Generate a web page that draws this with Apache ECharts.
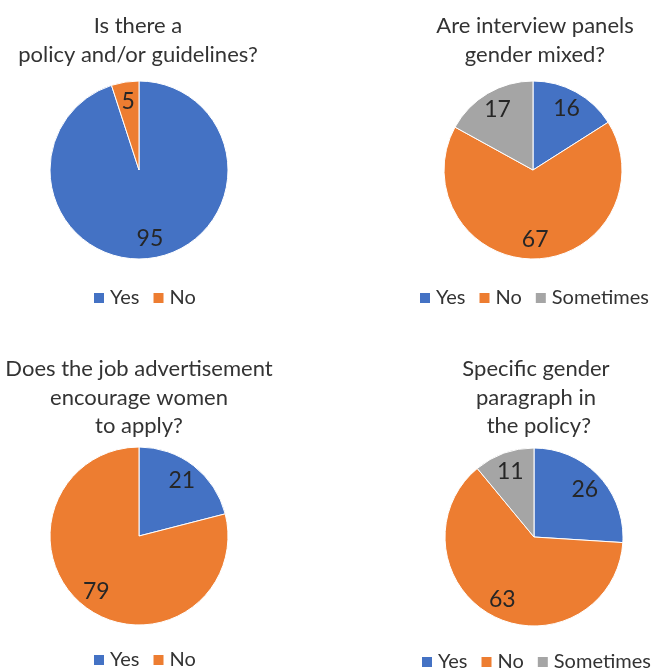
<!DOCTYPE html>
<html>
<head>
<meta charset="utf-8">
<script src="https://cdn.jsdelivr.net/npm/echarts@6/dist/echarts.min.js"></script>
<style>
  html, body { margin: 0; padding: 0; background: #fff; }
  #chart { width: 659px; height: 669px; }
</style>
</head>
<body>
<div id="chart"></div>
<script>
// Answer categories
const answersTwo = ['Yes', 'No'];
const answersThree = ['Yes', 'No', 'Sometimes'];

// Survey results (percent)
const policyValues = [95, 5];
const panelValues = [16, 67, 17];
const advertValues = [21, 79];
const paragraphValues = [26, 63, 11];

// Question titles
const policyTitle = 'Is there a\npolicy and/or guidelines?';
const panelTitle = 'Are interview panels\ngender mixed?';
const advertTitle = 'Does the job advertisement\nencourage women\nto apply?';
const paragraphTitle = 'Specific gender\nparagraph in\n the policy?';

const colorMap = { Yes: '#4472C4', No: '#ED7D31', Sometimes: '#A5A5A5' };
const FONT = 'Lato, "Open Sans", sans-serif';
const TEXT = '#333333';
const R = 89;

const panels = [
  { title: policyTitle, names: answersTwo, values: policyValues, cx: 139, cy: 170, titleX: 133, titleTop: 7, legendLeft: 87, legendTop: 283 },
  { title: panelTitle, names: answersThree, values: panelValues, cx: 533, cy: 170, titleX: 530, titleTop: 7, legendLeft: 413, legendTop: 283 },
  { title: advertTitle, names: answersTwo, values: advertValues, cx: 139, cy: 536, titleX: 134, titleTop: 350, legendLeft: 87, legendTop: 645 },
  { title: paragraphTitle, names: answersThree, values: paragraphValues, cx: 534, cy: 537, titleX: 531, titleTop: 350, legendLeft: 415, legendTop: 647 }
];

const titles = [];
const legends = [];
const series = [];

panels.forEach(function (p) {
  const data = p.names.map(function (n, i) {
    return { name: n, value: p.values[i], itemStyle: { color: colorMap[n] } };
  });
  titles.push({
    text: p.title,
    left: p.titleX,
    top: p.titleTop,
    textAlign: 'center',
    textStyle: { fontFamily: FONT, fontSize: 22, fontWeight: 'normal', color: TEXT, lineHeight: 28.5, align: 'center' }
  });
  legends.push({
    data: p.names,
    left: p.legendLeft,
    top: p.legendTop,
    width: 320,
    icon: 'rect',
    itemWidth: 12,
    itemHeight: 12,
    itemGap: 12,
    selectedMode: false,
    textStyle: { fontFamily: FONT, fontSize: 20, color: TEXT }
  });
  // visible slices
  series.push({
    type: 'pie',
    center: [p.cx, p.cy],
    radius: [0, R],
    startAngle: 90,
    clockwise: true,
    silent: true,
    label: { show: false },
    labelLine: { show: false },
    itemStyle: { borderColor: '#ffffff', borderWidth: 1 },
    data: data
  });
  // value labels placed on an outer ring so they sit ~3/4 of the way out
  series.push({
    type: 'pie',
    center: [p.cx, p.cy],
    radius: [R * 0.5, R],
    startAngle: 90,
    clockwise: true,
    silent: true,
    legendHoverLink: false,
    itemStyle: { color: 'rgba(0,0,0,0)' },
    label: {
      show: true,
      position: 'inside',
      formatter: '{c}',
      fontFamily: FONT,
      fontSize: 23,
      color: '#262626'
    },
    labelLine: { show: false },
    data: p.names.map(function (n, i) {
      return { name: n, value: p.values[i], itemStyle: { color: 'rgba(0,0,0,0)' } };
    })
  });
});

const chart = echarts.init(document.getElementById('chart'), null, { renderer: 'canvas' });
chart.setOption({
  backgroundColor: '#ffffff',
  animation: false,
  color: [colorMap.Yes, colorMap.No, colorMap.Sometimes],
  title: titles,
  legend: legends,
  series: series
});
</script>
</body>
</html>
